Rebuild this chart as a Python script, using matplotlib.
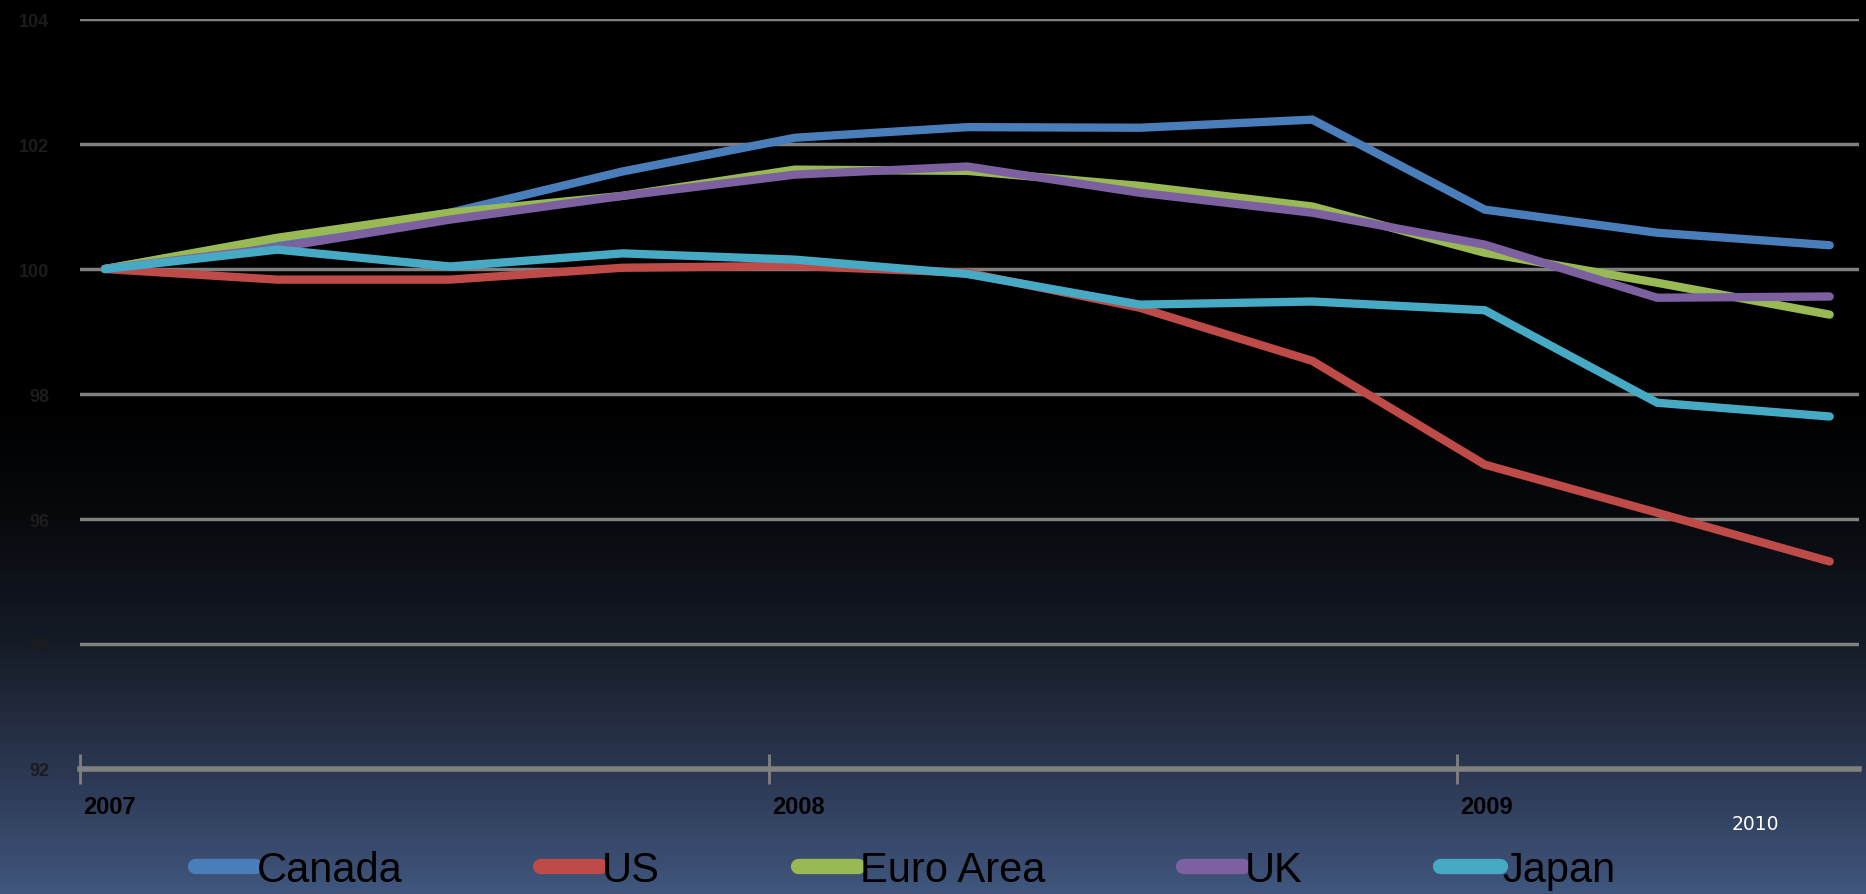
import numpy as np
import matplotlib
matplotlib.use('Agg')
import matplotlib.pyplot as plt
from matplotlib.colors import LinearSegmentedColormap

## data: quarterly GDP index (2007 Q? = 100)
quarters = np.arange(11)
canada = [100, 100.47, 100.9, 101.56, 102.1, 102.27, 102.26, 102.39, 100.95, 100.58, 100.38]
us = [100, 99.83, 99.83, 100.02, 100.05, 99.94, 99.38, 98.53, 96.87, 96.1, 95.32]
euro = [100, 100.5, 100.9, 101.17, 101.59, 101.57, 101.33, 101.0, 100.26, 99.78, 99.27]
uk = [100, 100.34, 100.79, 101.17, 101.51, 101.64, 101.22, 100.9, 100.39, 99.54, 99.56]
japan = [100, 100.31, 100.04, 100.25, 100.15, 99.92, 99.43, 99.48, 99.34, 97.86, 97.64]

series_names = ['Canada', 'US', 'Euro Area', 'UK', 'Japan']
series_colors = ['#4a7ebb', '#be4b48', '#98b954', '#7d60a0', '#46aac5']

year_labels = ['2007', '2008', '2009']
year_ticks = [-0.145, 3.85, 7.84]
y_ticks = [92, 94, 96, 98, 100, 102, 104]

fnt = ['Liberation Sans', 'DejaVu Sans']

fig = plt.figure(figsize=(18.66, 8.95), dpi=100)

## background gradient (black top -> slate blue bottom)
bg = fig.add_axes([0, 0, 1, 1], zorder=-10)
grad_cmap = LinearSegmentedColormap.from_list(
    'bg', [(0.0, '#000000'), (0.45, '#000000'), (0.58, '#07090d'),
           (0.72, '#151b26'), (0.86, '#2b3650'), (1.0, '#40567d')])
bg.imshow(np.linspace(0, 1, 256).reshape(-1, 1), aspect='auto', cmap=grad_cmap,
          extent=[0, 1, 0, 1], origin='upper')
bg.set_axis_off()

ax = fig.add_axes([80/1866, 1-770/895, (1859-80)/1866, (770-20)/895])
ax.patch.set_alpha(0)

for vals, name, col in zip([canada, us, euro, uk, japan], series_names, series_colors):
    ax.plot(quarters, vals, color=col, lw=6, solid_joinstyle='miter',
            solid_capstyle='round', label=name, zorder=3)

ax.set_xlim(-0.145, 10.17)
ax.set_ylim(92, 104)
ax.set_yticks(y_ticks)
ax.set_yticklabels([str(v) for v in y_ticks], fontsize=13, fontweight='bold',
                   color='#1c1c1c', family=fnt)
ax.tick_params(axis='y', length=0, pad=22)
ax.grid(axis='y', color='#808080', lw=2.5, zorder=1)
for s in ['left', 'right', 'top']:
    ax.spines[s].set_visible(False)
ax.spines['bottom'].set_color('#808080')
ax.spines['bottom'].set_linewidth(4)
ax.spines['bottom'].set_zorder(2)

ax.set_xticks(year_ticks)
ax.set_xticklabels([])
ax.tick_params(axis='x', direction='inout', length=22, width=2, color='#808080')
for xt, lab in zip(year_ticks, year_labels):
    ax.text(xt + 0.02, -0.05, lab, transform=ax.get_xaxis_transform(),
            ha='left', va='center', fontsize=17, fontweight='bold',
            color='black', family=fnt)

## extra label overlaid in the original slide
fig.text(1732/1866, 1-825/895, '2010', color='white', fontsize=13.5,
         ha='left', va='center')

fig.legend(loc='center', bbox_to_anchor=(0.485, 24/895), ncol=5, frameon=False,
           prop={'family': fnt, 'size': 30}, handlelength=1.44,
           handletextpad=0.05, columnspacing=3.3, borderpad=0,
           labelcolor='black')
for h in fig.legends[0].legend_handles:
    h.set_linewidth(11)
    h.set_solid_capstyle('round')

fig.savefig('out.png', dpi=100)
